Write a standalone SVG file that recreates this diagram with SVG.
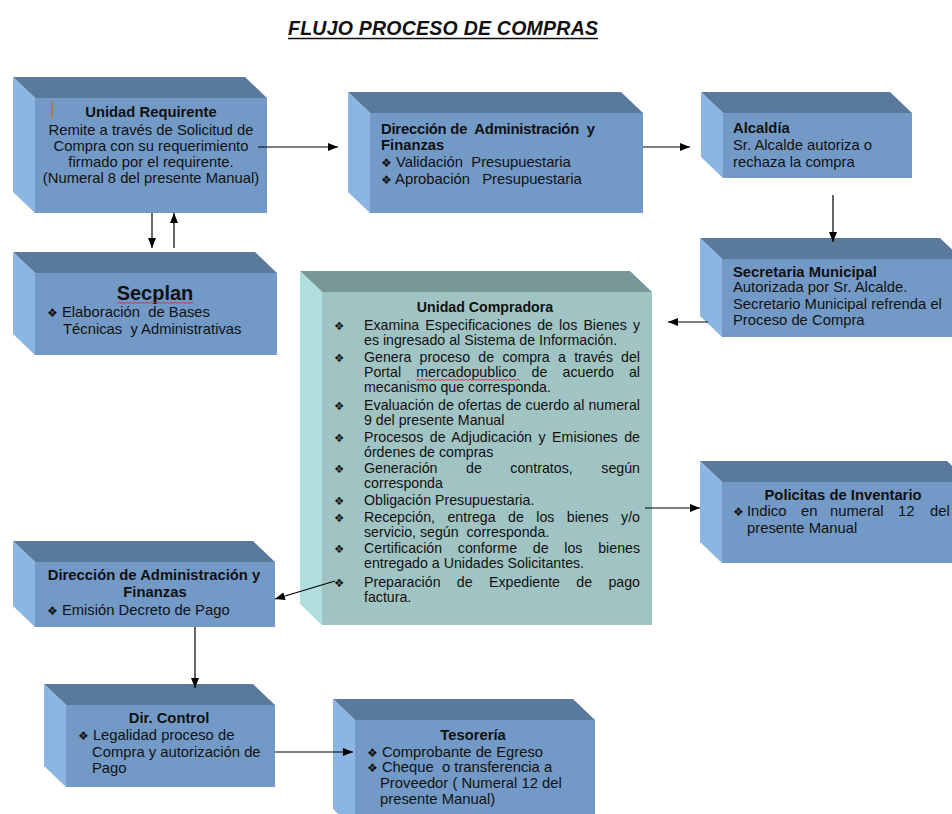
<svg xmlns="http://www.w3.org/2000/svg" width="952" height="814" viewBox="0 0 952 814">
<style>
text{font-family:"Liberation Sans",Arial,"DejaVu Sans",sans-serif;font-size:14.8px;fill:#111;white-space:pre}
.b{font-weight:bold}
.m{text-anchor:middle}
.cu text{font-size:14.2px}
.bl{font-size:12px}
.cu .bl{font-size:11.5px}
.front{fill:#739ac7}
.top{fill:#5a7a9c}
.left{fill:#8bb5e2}
.cfront{fill:#a0c4c4}
.ctop{fill:#789898}
.cleft{fill:#b0dede}
.con line{stroke:#000;stroke-width:1.2;marker-end:url(#ah)}
.sq{fill:none;stroke:#e02020;stroke-width:0.8}
</style>
<defs>
<marker id="ah" markerUnits="userSpaceOnUse" markerWidth="10" markerHeight="8" refX="10" refY="4" orient="auto"><path d="M0,0L10,4L0,8z" fill="#000"/></marker>
</defs>
<rect width="952" height="814" fill="#fff"/>
<g id="title">
<text x="288" y="35" class="b" style="font-style:italic;font-size:19.5px" textLength="310" lengthAdjust="spacing">FLUJO PROCESO DE COMPRAS</text>
<line x1="288" y1="38.5" x2="598" y2="38.5" stroke="#111" stroke-width="1.6"/>
</g>
<g id="unidad-requirente">
<rect class="front" x="35" y="98" width="232" height="115"/>
<polygon class="top" points="13,77 245,77 267,98 35,98"/>
<polygon class="left" points="13,77 35,98 35,213 13,192"/>
<rect x="51" y="101" width="1.6" height="17" fill="#b8733a"/>
<text x="151" y="117" class="b m">Unidad Requirente</text>
<text x="151" y="135" class="m">Remite a través de Solicitud de</text>
<text x="151" y="151" class="m">Compra con su requerimiento</text>
<text x="151" y="167" class="m">firmado por el requirente.</text>
<text x="151" y="183" class="m">(Numeral 8 del presente Manual)</text>
</g>
<g id="direccion-admin-1">
<rect class="front" x="370" y="113" width="273" height="100"/>
<polygon class="top" points="348,92 621,92 643,113 370,113"/>
<polygon class="left" points="348,92 370,113 370,213 348,192"/>
<text x="381" y="134" class="b" textLength="214" lengthAdjust="spacing">Dirección de  Administración  y</text>
<text x="381" y="150" class="b">Finanzas</text>
<text x="381" y="167"><tspan class="bl">❖</tspan> Validación  Presupuestaria</text>
<text x="381" y="184"><tspan class="bl">❖</tspan> Aprobación   Presupuestaria</text>
</g>
<g id="alcaldia">
<rect class="front" x="723" y="113" width="189" height="65"/>
<polygon class="top" points="701,92 890,92 912,113 723,113"/>
<polygon class="left" points="701,92 723,113 723,178 701,157"/>
<text x="733" y="133" class="b">Alcaldía</text>
<text x="733" y="150">Sr. Alcalde autoriza o</text>
<text x="733" y="167">rechaza la compra</text>
</g>
<g id="secplan">
<rect class="front" x="35" y="273" width="242" height="82"/>
<polygon class="top" points="13,252 255,252 277,273 35,273"/>
<polygon class="left" points="13,252 35,273 35,355 13,334"/>
<text x="155" y="300" class="b m" style="font-size:20px">Secplan</text>
<path class="sq" d="M117,303.5l2,-1.2l2,1.2l2,-1.2l2,1.2l2,-1.2l2,1.2l2,-1.2l2,1.2l2,-1.2l2,1.2l2,-1.2l2,1.2l2,-1.2l2,1.2l2,-1.2l2,1.2l2,-1.2l2,1.2l2,-1.2l2,1.2l2,-1.2l2,1.2l2,-1.2l2,1.2l2,-1.2l2,1.2l2,-1.2l2,1.2l2,-1.2l2,1.2l2,-1.2l2,1.2l2,-1.2l2,1.2l2,-1.2l2,1.2l2,-1.2l2,1.2"/>
<text x="47" y="317"><tspan class="bl">❖</tspan> Elaboración  de Bases</text>
<text x="63" y="334">Técnicas  y Administrativas</text>
</g>
<g id="secretaria-municipal">
<rect class="front" x="722" y="259" width="240" height="78"/>
<polygon class="top" points="700,238 940,238 962,259 722,259"/>
<polygon class="left" points="700,238 722,259 722,337 700,316"/>
<text x="733" y="277" class="b">Secretaria Municipal</text>
<text x="733" y="292">Autorizada por Sr. Alcalde.</text>
<text x="733" y="309">Secretario Municipal refrenda el</text>
<text x="733" y="325">Proceso de Compra</text>
</g>
<g id="unidad-compradora" class="cu">
<rect class="cfront" x="322" y="292" width="330" height="333"/>
<polygon class="ctop" points="300,271 630,271 652,292 322,292"/>
<polygon class="cleft" points="300,271 322,292 322,625 300,604"/>
<text x="485" y="312" class="b m">Unidad Compradora</text>
<g>
<text x="334" y="330" class="bl">❖</text>
<text x="334" y="362" class="bl">❖</text>
<text x="334" y="410" class="bl">❖</text>
<text x="334" y="442" class="bl">❖</text>
<text x="334" y="473" class="bl">❖</text>
<text x="334" y="505" class="bl">❖</text>
<text x="334" y="522" class="bl">❖</text>
<text x="334" y="553" class="bl">❖</text>
<text x="334" y="587" class="bl">❖</text>
</g>
<text x="364" y="330" word-spacing="2.2" textLength="276" lengthAdjust="spacing">Examina Especificaciones de los Bienes y</text>
<text x="364" y="345">es ingresado al Sistema de Información.</text>
<text x="364" y="362" word-spacing="4.3" textLength="276" lengthAdjust="spacing">Genera proceso de compra a través del</text>
<text x="364" y="377" word-spacing="11.2" textLength="276" lengthAdjust="spacing">Portal mercadopublico de acuerdo al</text>
<path class="sq" d="M416,380.5l2,-1.2l2,1.2l2,-1.2l2,1.2l2,-1.2l2,1.2l2,-1.2l2,1.2l2,-1.2l2,1.2l2,-1.2l2,1.2l2,-1.2l2,1.2l2,-1.2l2,1.2l2,-1.2l2,1.2l2,-1.2l2,1.2l2,-1.2l2,1.2l2,-1.2l2,1.2l2,-1.2l2,1.2l2,-1.2l2,1.2l2,-1.2l2,1.2l2,-1.2l2,1.2l2,-1.2l2,1.2l2,-1.2l2,1.2l2,-1.2l2,1.2l2,-1.2l2,1.2l2,-1.2l2,1.2l2,-1.2l2,1.2l2,-1.2l2,1.2l2,-1.2l2,1.2l2,-1.2l2,1.2l2,-1.2l2,1.2"/>
<text x="364" y="392">mecanismo que corresponda.</text>
<text x="364" y="410" textLength="276" lengthAdjust="spacing">Evaluación de ofertas de cuerdo al numeral</text>
<text x="364" y="425">9 del presente Manual</text>
<text x="364" y="442" word-spacing="2.5" textLength="276" lengthAdjust="spacing">Procesos de Adjudicación y Emisiones de</text>
<text x="364" y="457">órdenes de compras</text>
<text x="364" y="473" word-spacing="24.6" textLength="276" lengthAdjust="spacing">Generación de contratos, según</text>
<text x="364" y="488">corresponda</text>
<text x="364" y="505">Obligación Presupuestaria.</text>
<text x="364" y="522" word-spacing="8.5" textLength="276" lengthAdjust="spacing">Recepción, entrega de los bienes y/o</text>
<text x="364" y="537">servicio, según  corresponda.</text>
<text x="364" y="553" word-spacing="11.8" textLength="276" lengthAdjust="spacing">Certificación conforme de los bienes</text>
<text x="364" y="568">entregado a Unidades Solicitantes.</text>
<text x="364" y="587" word-spacing="12.4" textLength="276" lengthAdjust="spacing">Preparación de Expediente de pago</text>
<text x="364" y="602">factura.</text>
</g>
<g id="policitas-inventario">
<rect class="front" x="722" y="482" width="247" height="81"/>
<polygon class="top" points="700,461 947,461 969,482 722,482"/>
<polygon class="left" points="700,461 722,482 722,563 700,542"/>
<text x="843" y="500" class="b m">Policitas de Inventario</text>
<text x="733" y="516" class="bl">❖</text>
<text x="747" y="516">Indico</text>
<text x="801" y="516">en</text>
<text x="830" y="516">numeral</text>
<text x="898" y="516">12</text>
<text x="930" y="516">del</text>
<text x="747" y="533">presente Manual</text>
</g>
<g id="direccion-admin-2">
<rect class="front" x="35" y="562" width="240" height="65"/>
<polygon class="top" points="13,541 253,541 275,562 35,562"/>
<polygon class="left" points="13,541 35,562 35,627 13,606"/>
<text x="154" y="580" class="b m">Dirección de Administración y</text>
<text x="155" y="597" class="b m">Finanzas</text>
<text x="47" y="615"><tspan class="bl">❖</tspan> Emisión Decreto de Pago</text>
</g>
<g id="dir-control">
<rect class="front" x="66" y="705" width="209" height="82"/>
<polygon class="top" points="44,684 253,684 275,705 66,705"/>
<polygon class="left" points="44,684 66,705 66,787 44,766"/>
<text x="169" y="723" class="b m">Dir. Control</text>
<text x="78" y="740"><tspan class="bl">❖</tspan> Legalidad proceso de</text>
<text x="92" y="757">Compra y autorización de</text>
<text x="92" y="773">Pago</text>
</g>
<g id="tesoreria">
<rect class="front" x="355" y="720" width="240" height="110"/>
<polygon class="top" points="333,699 573,699 595,720 355,720"/>
<polygon class="left" points="333,699 355,720 355,830 333,809"/>
<text x="473" y="740" class="b m">Tesorería</text>
<text x="367" y="757"><tspan class="bl">❖</tspan> Comprobante de Egreso</text>
<text x="367" y="772"><tspan class="bl">❖</tspan> Cheque  o transferencia a</text>
<text x="380" y="788">Proveedor ( Numeral 12 del</text>
<text x="380" y="804">presente Manual)</text>
</g>
<g id="connectors" class="con">
<line x1="258" y1="147" x2="338" y2="147"/>
<line x1="643" y1="147" x2="690" y2="147"/>
<line x1="833" y1="195" x2="833" y2="242"/>
<line x1="708" y1="322" x2="668" y2="322"/>
<line x1="152" y1="213" x2="152" y2="248"/>
<line x1="174" y1="248" x2="174" y2="213"/>
<line x1="645" y1="508" x2="700" y2="508"/>
<line x1="335" y1="581" x2="275" y2="599"/>
<line x1="195" y1="627" x2="195" y2="688"/>
<line x1="275" y1="752" x2="353" y2="752"/>
</g>
</svg>
